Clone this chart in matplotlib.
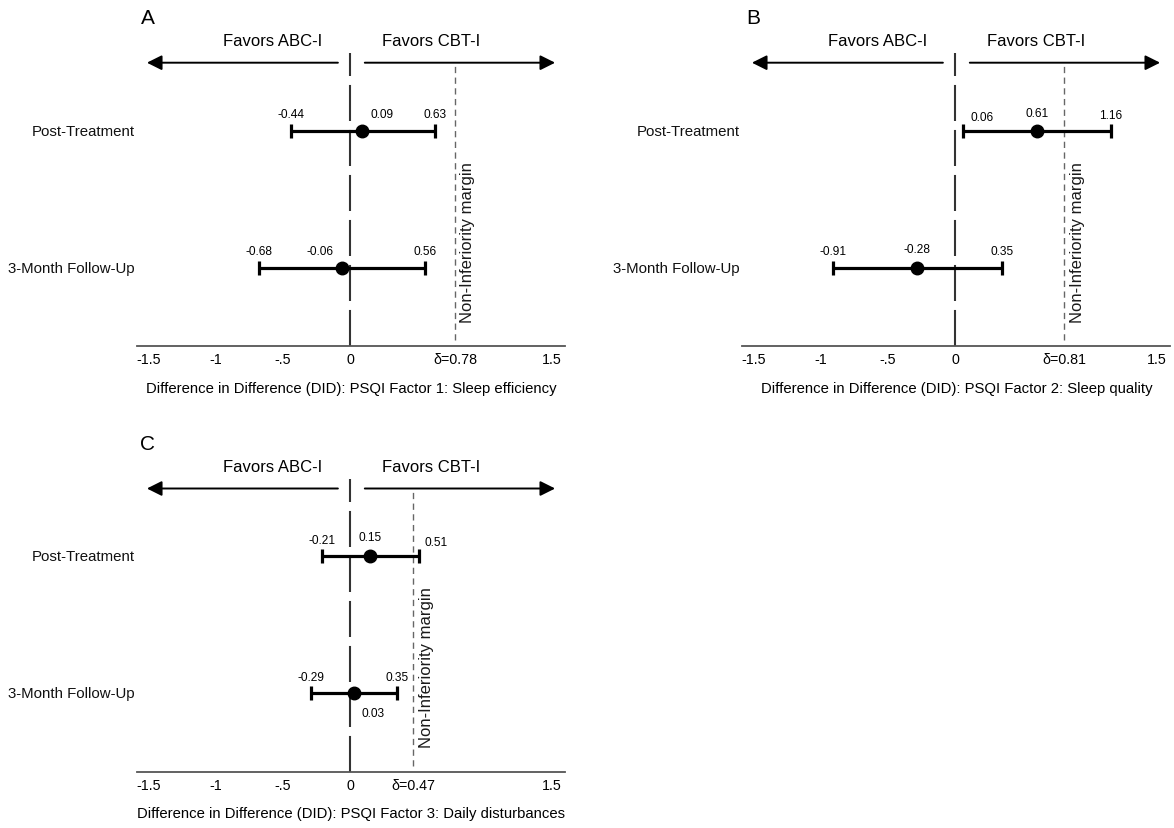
import numpy as np
import matplotlib.pyplot as plt

plt.rcParams.update({
    "font.family": ["Liberation Sans", "DejaVu Sans"],
    "figure.dpi": 100,
})

# --- data -------------------------------------------------------------------
ROWS = ["Post-Treatment", "3-Month Follow-Up"]
ROW_Y = [2, 1]

A_EST = [0.09, -0.06]
A_LO = [-0.44, -0.68]
A_HI = [0.63, 0.56]
A_MARGIN = 0.78

B_EST = [0.61, -0.28]
B_LO = [0.06, -0.91]
B_HI = [1.16, 0.35]
B_MARGIN = 0.81

C_EST = [0.15, 0.03]
C_LO = [-0.21, -0.29]
C_HI = [0.51, 0.35]
C_MARGIN = 0.47

XTICKS = [-1.5, -1, -0.5, 0, 1.5]
XTICKLABELS = ["-1.5", "-1", "-.5", "0", "1.5"]

# --- label nudges in pixels (lo, est, hi) per row ----------------------------
A_OFF = [[(0, 17), (20, 17), (0, 17)], [(0, 17), (-22, 17), (0, 17)]]
B_OFF = [[(19, 14), (0, 18), (0, 16)], [(0, 17), (0, 19), (0, 17)]]
C_OFF = [[(0, 16), (0, 19), (17, 14)], [(0, 16), (19, -20), (0, 16)]]

W, H = 1174, 829
S = 134.5          # px per unit on x
RS = 137.0         # px per unit on y
XL = (-1.58, 1.6)
Y0 = 0.43
AX_H = 325
PX2PT = 0.72

fig = plt.figure(figsize=(W / 100, H / 100), dpi=100)


def panel(letter, x0, yaxis, est, lo, hi, margin, offs, xlabel):
    left = (x0 - (-XL[0]) * S) / W
    width = (XL[1] - XL[0]) * S / W
    ax = fig.add_axes([left, (H - yaxis) / H, width, AX_H / H])
    ax.set_xlim(*XL)
    ax.set_ylim(Y0, Y0 + AX_H / RS)
    for sp in ["top", "right", "left"]:
        ax.spines[sp].set_visible(False)
    ax.spines["bottom"].set_color("#555555")
    ax.spines["bottom"].set_linewidth(1.3)
    ax.set_yticks([])

    ticks = XTICKS[:4] + [margin] + XTICKS[4:]
    labels = XTICKLABELS[:4] + [f"δ={margin:.2f}"] + XTICKLABELS[4:]
    ax.set_xticks(ticks)
    ax.set_xticklabels(labels)
    ax.tick_params(axis="x", length=0, pad=4.5, labelsize=10.3)

    y_arrow = Y0 + 283 / RS
    # zero line
    ax.plot([0, 0], [Y0, y_arrow + 10 / RS], color="#333333", lw=1.5,
            dashes=(17.3, 4.3), solid_capstyle="butt", zorder=1)
    # non-inferiority margin
    ax.plot([margin, margin], [Y0 + 6 / RS, y_arrow], color="#666666", lw=1.0,
            dashes=(4.5, 3.2), zorder=1)
    ax.annotate("Non-Inferiority margin", xy=(margin, Y0 + 24 / RS),
                xytext=(4, 0), textcoords="offset points", rotation=90,
                ha="left", va="bottom", fontsize=12, color="#1a1a1a")

    # direction arrows
    akw = dict(arrowstyle="-|>,head_length=0.9,head_width=0.45", lw=1.4,
               color="black", shrinkA=0, shrinkB=0)
    ax.annotate("", xy=(-1.51, y_arrow), xytext=(-0.09, y_arrow),
                arrowprops=akw, annotation_clip=False)
    ax.annotate("", xy=(1.525, y_arrow), xytext=(0.11, y_arrow),
                arrowprops=akw, annotation_clip=False)
    ax.text(-0.575, Y0 + 305 / RS, "Favors ABC-I", ha="center", va="center",
            fontsize=12)
    ax.text(0.6, Y0 + 305 / RS, "Favors CBT-I", ha="center", va="center",
            fontsize=12)

    est, lo, hi = map(np.asarray, (est, lo, hi))
    ax.errorbar(est, ROW_Y, xerr=[est - lo, hi - est], fmt="o", color="black",
                ms=9, elinewidth=2.3, capsize=4.8, capthick=2.3, zorder=3)

    for i, y in enumerate(ROW_Y):
        for j, v in enumerate((lo[i], est[i], hi[i])):
            dx, dy = offs[i][j]
            ax.annotate(f"{v:.2f}", xy=(v, y), xytext=(dx * PX2PT, dy * PX2PT),
                        textcoords="offset points", ha="center", va="center",
                        fontsize=8.6)
        ax.annotate(ROWS[i], xy=(0, y), xycoords=("axes fraction", "data"),
                    xytext=(-2, 0), textcoords="offset points", ha="right",
                    va="center", fontsize=10.8, color="#111111")

    ax.annotate(xlabel, xy=(0.5, 0), xycoords="axes fraction",
                xytext=(0, -42 * PX2PT), textcoords="offset points",
                ha="center", va="center", fontsize=10.7)
    ax.annotate(letter, xy=(0, Y0 + 328 / RS), xycoords=("axes fraction", "data"),
                xytext=(10.5 * PX2PT, 0), textcoords="offset points",
                ha="center", va="center", fontsize=15, annotation_clip=False)
    return ax


panel("A", 350, 346.7, A_EST, A_LO, A_HI, A_MARGIN, A_OFF,
      "Difference in Difference (DID): PSQI Factor 1: Sleep efficiency")
panel("B", 955, 346.7, B_EST, B_LO, B_HI, B_MARGIN, B_OFF,
      "Difference in Difference (DID): PSQI Factor 2: Sleep quality")
panel("C", 350, 772.5, C_EST, C_LO, C_HI, C_MARGIN, C_OFF,
      "Difference in Difference (DID): PSQI Factor 3: Daily disturbances")

fig.savefig("out.png", dpi=100, facecolor="white")
